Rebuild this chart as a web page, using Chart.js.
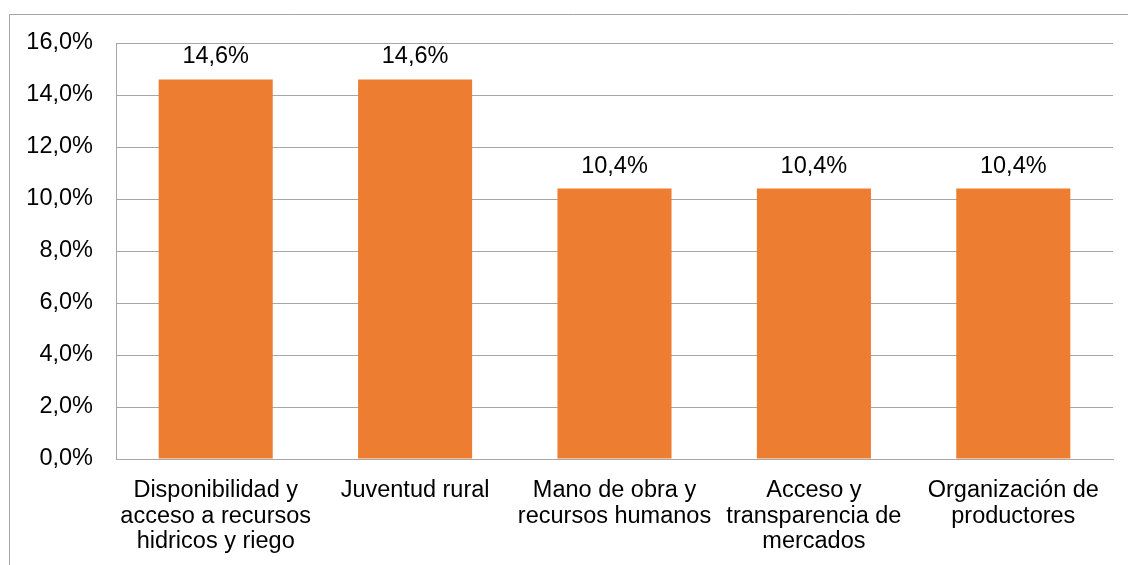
<!DOCTYPE html>
<html>
<head>
<meta charset="utf-8">
<script src="https://cdn.jsdelivr.net/npm/chart.js@4/dist/chart.umd.min.js"></script>
<style>
  html, body { margin: 0; padding: 0; background: #fff; }
  #wrap { position: relative; width: 1128px; height: 565px; }
</style>
</head>
<body>
<div id="wrap"><canvas id="grafico" width="1128" height="565"></canvas></div>
<script>
// Categorías y porcentajes
const categorias = [
  ['Disponibilidad y', 'acceso a recursos', 'hidricos y riego'],
  ['Juventud rural'],
  ['Mano de obra y', 'recursos humanos'],
  ['Acceso y', 'transparencia de', 'mercados'],
  ['Organización de', 'productores']
];
const porcentajes = [14.6, 14.6, 10.4, 10.4, 10.4];
const ejeY = { min: 0, max: 16, paso: 2 };

const fmt = v => v.toFixed(1).replace('.', ',') + '%';
const FUENTE = "'Liberation Sans', Arial, sans-serif";
const TAM = 23.5;

// Marco exterior del gráfico
const marco = {
  id: 'marco',
  beforeDraw(chart) {
    const ctx = chart.ctx;
    ctx.save();
    ctx.strokeStyle = '#a6a6a6';
    ctx.lineWidth = 1;
    ctx.beginPath();
    ctx.moveTo(9.5, chart.height);
    ctx.lineTo(9.5, 14.5);
    ctx.lineTo(chart.width, 14.5);
    ctx.stroke();
    ctx.restore();
  }
};

// Etiquetas de valor encima de cada barra
const etiquetas = {
  id: 'etiquetas',
  afterDatasetsDraw(chart) {
    const ctx = chart.ctx;
    const meta = chart.getDatasetMeta(0);
    ctx.save();
    ctx.font = TAM + 'px ' + FUENTE;
    ctx.fillStyle = '#000';
    ctx.textAlign = 'center';
    ctx.textBaseline = 'alphabetic';
    meta.data.forEach((bar, i) => {
      ctx.fillText(fmt(porcentajes[i]), bar.x, bar.y - 16);
    });
    ctx.restore();
  }
};

new Chart(document.getElementById('grafico'), {
  type: 'bar',
  data: {
    labels: categorias,
    datasets: [{
      data: porcentajes,
      backgroundColor: '#ed7d31',
      borderWidth: 0,
      barPercentage: 1,
      categoryPercentage: 0.572
    }]
  },
  options: {
    responsive: false,
    animation: false,
    layout: { padding: { top: 43, right: 15, left: 0, bottom: 0 } },
    plugins: { legend: { display: false }, tooltip: { enabled: false } },
    scales: {
      x: {
        grid: { display: false, drawTicks: false },
        border: { display: true, color: '#a6a6a6' },
        ticks: {
          color: '#000',
          padding: 19,
          maxRotation: 0,
          autoSkip: false,
          font: { family: FUENTE, size: TAM, lineHeight: 25.5 / TAM }
        },
        afterFit(scale) { scale.height = 106; }
      },
      y: {
        min: ejeY.min,
        max: ejeY.max,
        grid: { color: '#a6a6a6', drawTicks: false },
        border: { display: true, color: '#a6a6a6' },
        ticks: {
          stepSize: ejeY.paso,
          color: '#000',
          padding: 23,
          font: { family: FUENTE, size: TAM },
          callback: v => fmt(v)
        },
        afterFit(scale) { scale.width = 116; }
      }
    }
  },
  plugins: [marco, etiquetas]
});
</script>
</body>
</html>
